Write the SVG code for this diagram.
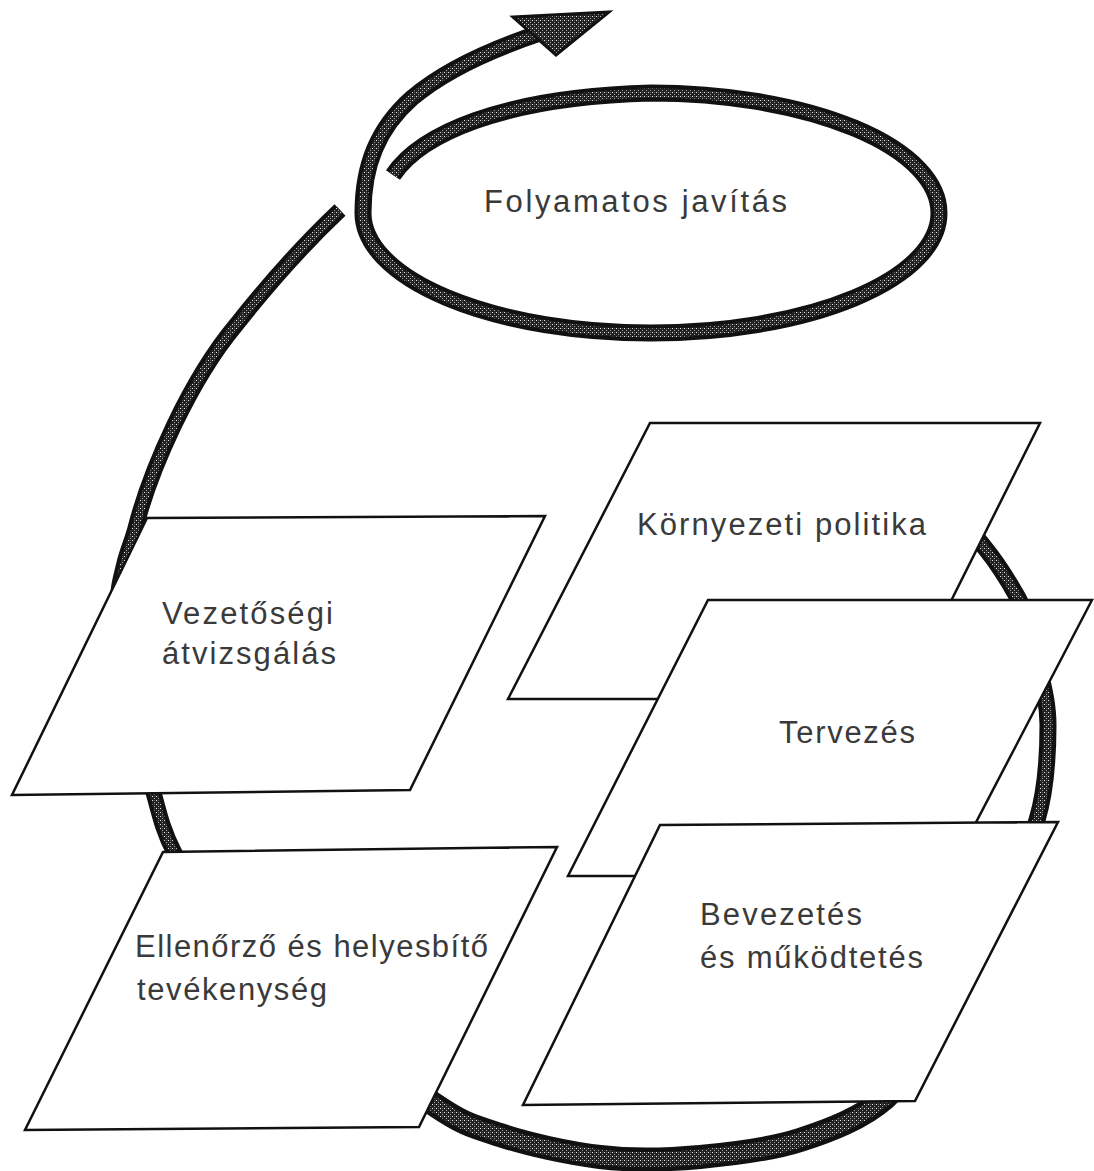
<svg xmlns="http://www.w3.org/2000/svg" width="1094" height="1171" viewBox="0 0 1094 1171">
  <style>
    .edge { fill: none; stroke: #111; stroke-linecap: butt; stroke-linejoin: round; }
    .fill { fill: none; stroke: url(#dith); stroke-linecap: butt; stroke-linejoin: round; }
    .box { fill: #fff; stroke: #111; stroke-width: 2.5; stroke-linejoin: miter; }
    .lbl { font-family: "Liberation Sans", Arial, sans-serif; font-size: 31px; fill: #3a3a3a; }
  </style>
  <defs>
    <pattern id="dith" width="4" height="4" patternUnits="userSpaceOnUse">
      <rect width="4" height="4" fill="#222"/>
      <rect x="0" y="0" width="1" height="1" fill="#e6e6e6"/>
      <rect x="2" y="2" width="1" height="1" fill="#a0a0a0"/>
      <rect x="2" y="0" width="1" height="1" fill="#555"/>
    </pattern>
  </defs>
  <rect width="1094" height="1171" fill="#fff"/>

  <g id="connectors">
    <!-- big loop: right side (starts behind Környezeti politika) -->
    <g id="loop-right">
      <path class="edge" stroke-width="17" d="M860,452 C873,460 919,484 940,500 C961,516 972,532 985,548 C998,564 1008,580 1018,598 C1027,615 1031,635 1036,655 C1041,678 1048,700 1048,725 C1048,755 1046,790 1037,820 C1027,852 1009,882 992,915 C975,948 944,1002 935,1020"/>
      <path class="fill" stroke-width="9" d="M860,452 C873,460 919,484 940,500 C961,516 972,532 985,548 C998,564 1008,580 1018,598 C1027,615 1031,635 1036,655 C1041,678 1048,700 1048,725 C1048,755 1046,790 1037,820 C1027,852 1009,882 992,915 C975,948 944,1002 935,1020"/>
    </g>
    <!-- big loop: bottom (thicker) -->
    <g id="loop-bottom">
      <path class="edge" stroke-width="24" d="M935,1020 C927,1033 907,1078 885,1098 C862,1118 831,1130 800,1140 C769,1150 733,1154 700,1157 C667,1160 633,1161 600,1157 C567,1153 527,1144 500,1135 C472,1126 463,1124 435,1105 C407,1086 347,1034 330,1020"/>
      <path class="fill" stroke-width="15" d="M935,1020 C927,1033 907,1078 885,1098 C862,1118 831,1130 800,1140 C769,1150 733,1154 700,1157 C667,1160 633,1161 600,1157 C567,1153 527,1144 500,1135 C472,1126 463,1124 435,1105 C407,1086 347,1034 330,1020"/>
    </g>
    <!-- big loop: left side rising to the spiral -->
    <g id="loop-left">
      <path class="edge" stroke-width="16" d="M330,1020 C313,1005 256,958 230,930 C204,902 187,877 174,852 C161,827 158,807 150,780 C142,753 133,718 128,690 C123,662 119,631 118,610 C117,589 121,578 124,565 C127,552 131,544 135,530 C150,470 190,380 236,325 C270,282 305,243 340,210"/>
      <path class="fill" stroke-width="8" d="M330,1020 C313,1005 256,958 230,930 C204,902 187,877 174,852 C161,827 158,807 150,780 C142,753 133,718 128,690 C123,662 119,631 118,610 C117,589 121,578 124,565 C127,552 131,544 135,530 C150,470 190,380 236,325 C270,282 305,243 340,210"/>
    </g>
    <!-- spiral of continuous improvement with arrowhead -->
    <g id="spiral">
      <path class="edge" stroke-width="17" d="M393,175 C420,135 500,97 651,93 A288,120 0 0 1 939,213 A288,120 0 0 1 651,333 A288,120 0 0 1 363,213 C363,165 378,128 412,98 C445,70 495,48 540,33"/>
      <path class="fill" stroke-width="9" d="M393,175 C420,135 500,97 651,93 A288,120 0 0 1 939,213 A288,120 0 0 1 651,333 A288,120 0 0 1 363,213 C363,165 378,128 412,98 C445,70 495,48 540,33"/>
      <polygon points="513,17 609,12 556,55" fill="url(#dith)" stroke="#111" stroke-width="3" stroke-linejoin="miter"/>
    </g>
  </g>

  <g id="node-folyamatos-javitas">
    <text class="lbl" x="484" y="212" textLength="303" lengthAdjust="spacing">Folyamatos javítás</text>
  </g>

  <g id="node-vezetosegi-atvizsgalas">
    <polygon class="box" points="147,518 545,516 410,790 12,795"/>
    <text class="lbl" x="162" y="624" textLength="171" lengthAdjust="spacing">Vezetőségi</text>
    <text class="lbl" x="162" y="664" textLength="174" lengthAdjust="spacing">átvizsgálás</text>
  </g>

  <g id="node-ellenorzo">
    <polygon class="box" points="163,852 557,847 419,1127 25,1130"/>
    <text class="lbl" x="135" y="957" textLength="353" lengthAdjust="spacing">Ellenőrző és helyesbítő</text>
    <text class="lbl" x="137" y="1000" textLength="190" lengthAdjust="spacing">tevékenység</text>
  </g>

  <g id="node-kornyezeti-politika">
    <polygon class="box" points="650,423 1040,423 902,699 508,699"/>
    <text class="lbl" x="637" y="535" textLength="289" lengthAdjust="spacing">Környezeti politika</text>
  </g>

  <g id="node-tervezes">
    <polygon class="box" points="708,600 1092,600 948,876 568,876"/>
    <text class="lbl" x="779" y="743" textLength="136" lengthAdjust="spacing">Tervezés</text>
  </g>

  <g id="node-bevezetes">
    <polygon class="box" points="660,825 1058,822 915,1101 523,1105"/>
    <text class="lbl" x="700" y="925" textLength="162" lengthAdjust="spacing">Bevezetés</text>
    <text class="lbl" x="700" y="968" textLength="223" lengthAdjust="spacing">és működtetés</text>
  </g>
</svg>
